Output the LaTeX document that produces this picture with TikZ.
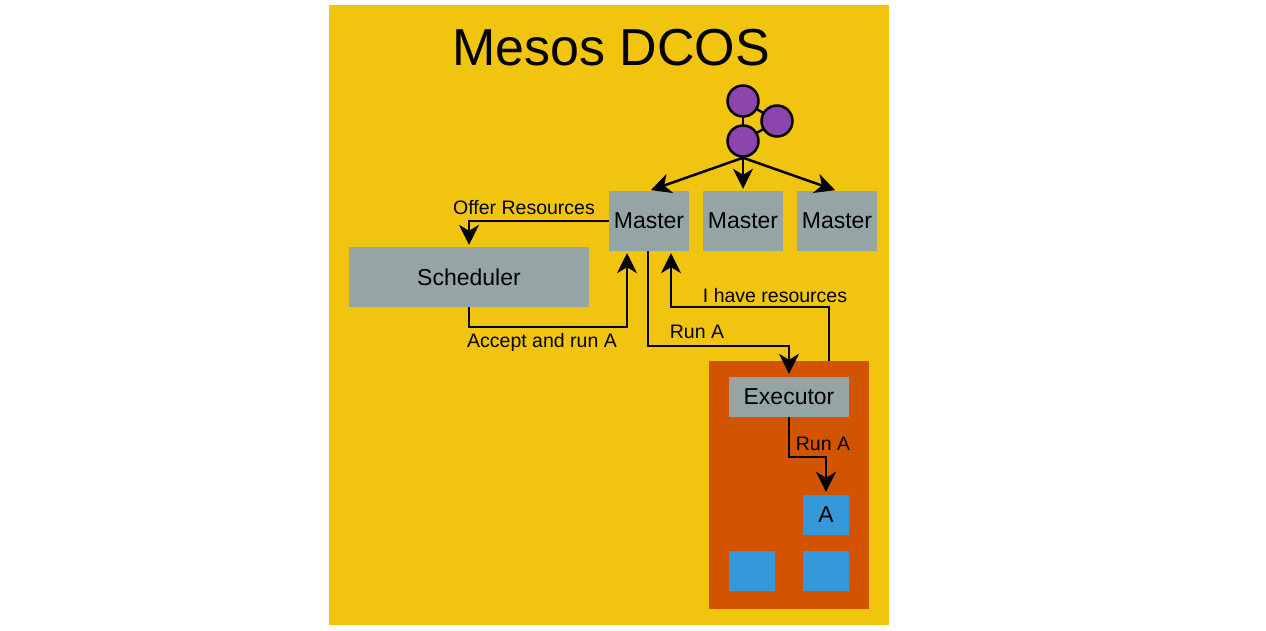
\documentclass[tikz,border=0pt]{standalone}
\usepackage{fontspec}
\setmainfont{Liberation Sans}
\usetikzlibrary{arrows.meta,calc}
\definecolor{myyellow}{HTML}{F1C40F}
\definecolor{mygray}{HTML}{95A5A6}
\definecolor{mypurple}{HTML}{8E44AD}
\definecolor{myorange}{HTML}{D35400}
\definecolor{myblue}{HTML}{3498DB}
\tikzset{
  box/.style={fill=mygray, draw=none, inner sep=0pt, font=\fontsize{23}{26}\selectfont},
  bluebox/.style={fill=myblue, draw=none, inner sep=0pt, minimum width=46pt, minimum height=40pt, font=\fontsize{23}{26}\selectfont},
  zk/.style={circle, fill=mypurple, draw=black, line width=2.5pt, minimum size=31pt, inner sep=0pt},
  arr/.style={draw=black, line width=2.5pt, shorten >=2pt, -{Stealth[length=20pt,width=20pt,inset=6pt]}},
  ln/.style={draw=black, line width=2.5pt},
  lab/.style={font=\fontsize{19.5}{22}\selectfont, inner sep=0pt}
}
\begin{document}
\begin{tikzpicture}[x=1pt,y=-1pt]
\useasboundingbox (0,0) rectangle (1266,630);
\fill[white] (0,0) rectangle (1266,630);
\fill[myyellow] (329,5) rectangle (889,625);
\node[font=\fontsize{52}{58}\selectfont] (title) at (611,48) {Mesos DCOS};
% zookeeper circles
\coordinate (k1) at (743,101);
\coordinate (k2) at (777,121);
\coordinate (k3) at (743,141);
\draw[ln] (k1) -- (k2);
\draw[ln] (k1) -- (k3);
\draw[ln] (k3) -- (k2);
\node[zk] (c1) at (k1) {};
\node[zk] (c2) at (k2) {};
\node[zk] (c3) at (k3) {};
% masters
\node[box, minimum width=80pt, minimum height=60pt] (m1) at (649,221) {Master};
\node[box, minimum width=80pt, minimum height=60pt] (m2) at (743,221) {Master};
\node[box, minimum width=80pt, minimum height=60pt] (m3) at (837,221) {Master};
\draw[arr] (c3.south) -- (m1.north);
\draw[arr] (c3.south) -- (m2.north);
\draw[arr] (c3.south) -- (m3.north);
% scheduler
\node[box, minimum width=240pt, minimum height=60pt] (sched) at (469,277) {Scheduler};
% agent
\node[fill=myorange, draw=none, minimum width=160pt, minimum height=248pt, inner sep=0pt] (agent) at (789,485) {};
\node[box, minimum width=120pt, minimum height=40pt] (exec) at (789,397) {Executor};
\node[bluebox] (ta) at (826,515) {A};
\node[bluebox] (tb) at (752,571) {};
\node[bluebox] (tc) at (826,571) {};
% connectors
\draw[arr] (m1.west) -| (sched.north);
\node[lab] (l1) at (524,208) {Offer Resources};
\draw[arr] (sched.south) -- ++(0,20) -| ([xshift=-22pt]m1.south);
\node[lab] (l2) at (542,342) {Accept and run A};
\draw[arr, shorten >=3pt] ([xshift=-1pt]m1.south) -- ++(0,95) -| (exec.north);
\node[lab] (l3) at (697,332) {Run A};
\draw[arr] ([xshift=40pt]agent.north) -- ++(0,-54) -| ([xshift=22pt]m1.south);
\node[lab] (l4) at (775,296) {I have resources};
\draw[arr, shorten >=3pt] (exec.south) -- ++(0,40) -| (ta.north);
\node[lab] (l5) at (823,444) {Run A};
\end{tikzpicture}
\end{document}
